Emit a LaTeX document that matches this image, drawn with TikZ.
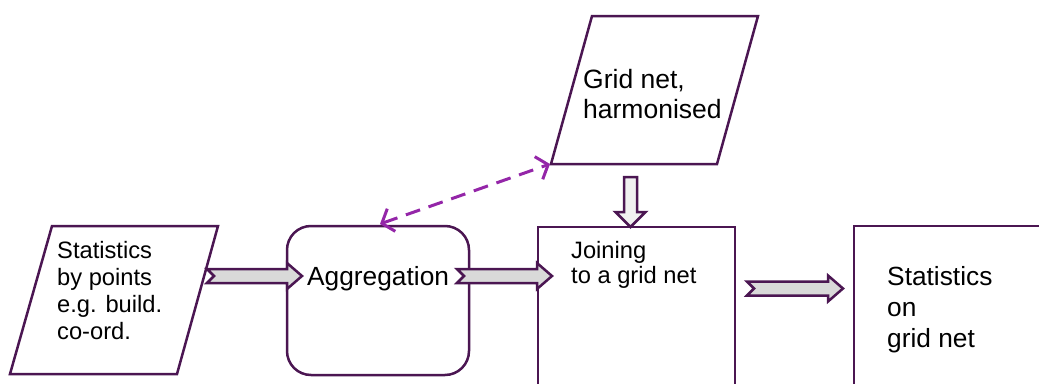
\documentclass[tikz,border=0pt]{standalone}
\usepackage{fontspec}
\setmainfont{Liberation Sans}
\usetikzlibrary{arrows.meta,calc}
\definecolor{bord}{RGB}{75,22,82}
\definecolor{dash}{RGB}{148,38,168}
\definecolor{arrfill}{RGB}{217,217,217}
\definecolor{arrfill2}{RGB}{240,240,240}
\tikzset{
  boxline/.style={draw=bord,line width=2.5pt,line join=miter},
  blockarr/.style={draw=bord,fill=arrfill,line width=2.5pt,line join=miter},
  txt/.style={inner sep=0pt,anchor=base west,align=left},
  dasharr/.style={draw=dash,line width=3pt,dash pattern=on 15pt off 9pt,
     {Straight Barb[length=10pt,width=24pt,line width=3pt]}-{Straight Barb[length=10pt,width=24pt,line width=3pt]}}
}
\newcommand{\harrow}[2]{%
  \path[blockarr] let \p1=(#1), \p2=(#2) in
    (\x1,\y1+7pt) -- (\x2-15pt,\y1+7pt) -- (\x2-15pt,\y1+13pt) -- (\x2,\y1)
    -- (\x2-15pt,\y1-13pt) -- (\x2-15pt,\y1-7pt) -- (\x1,\y1-7pt) -- (\x1+7pt,\y1) -- cycle;}
\begin{document}
\begin{tikzpicture}[x=1pt,y=-1pt]
\useasboundingbox (0,0) rectangle (1039,383);
% shapes
\draw[boxline] (52,226) -- (218,226) -- (177,374) -- (10,374) -- cycle;
\draw[boxline,rounded corners=24pt] (287,226) rectangle (469,375);
\draw[boxline] (538,395) -- (538,227) -- (735,227) -- (735,395);
\draw[boxline] (592,16) -- (758,16) -- (717,164) -- (551,164) -- cycle;
\draw[boxline] (854,395) -- (854,226) -- (1050,226);
% texts (anchored at the baseline of the last line)
\node[txt,font=\fontsize{23.7}{27}\selectfont] (stp) at (57,339) {Statistics\\by points\\e.g. build.\\co-ord.};
\node[txt,font=\fontsize{26.3}{30}\selectfont] (agg) at (307,285) {Aggregation};
\node[txt,font=\fontsize{23.7}{25}\selectfont] (join) at (571,283) {Joining\\to a grid net};
\node[txt,font=\fontsize{26.5}{30}\selectfont] (grid) at (583,118) {Grid net,\\harmonised};
\node[txt,font=\fontsize{26.3}{31}\selectfont] (stg) at (887,347) {Statistics\\on\\grid net};
% connector endpoints
\coordinate (a1s) at (207,276);
\coordinate (a1e) at (302,276);
\coordinate (a2s) at (457,276);
\coordinate (a2e) at (552,276);
\coordinate (a3s) at (747,288.5);
\coordinate (a3e) at (843,288.5);
\coordinate (gridbl) at (550,164);
\coordinate (aggtop) at (380,224);
\coordinate (dtop) at (630.5,177);
\coordinate (dtip) at (630.5,227);
\harrow{a1s}{a1e}
\harrow{a2s}{a2e}
\harrow{a3s}{a3e}
\path[blockarr,fill=arrfill2] let \p1=(dtop), \p2=(dtip) in
  (\x1-6.5pt,\y1) -- (\x1+6.5pt,\y1) -- (\x1+6.5pt,\y2+15pt) -- (\x1+15pt,\y2+15pt)
  -- (\x2,\y2) -- (\x1-15pt,\y2+15pt) -- (\x1-6.5pt,\y2+15pt) -- cycle;
\draw[dasharr] (aggtop) -- (gridbl);
\end{tikzpicture}
\end{document}
